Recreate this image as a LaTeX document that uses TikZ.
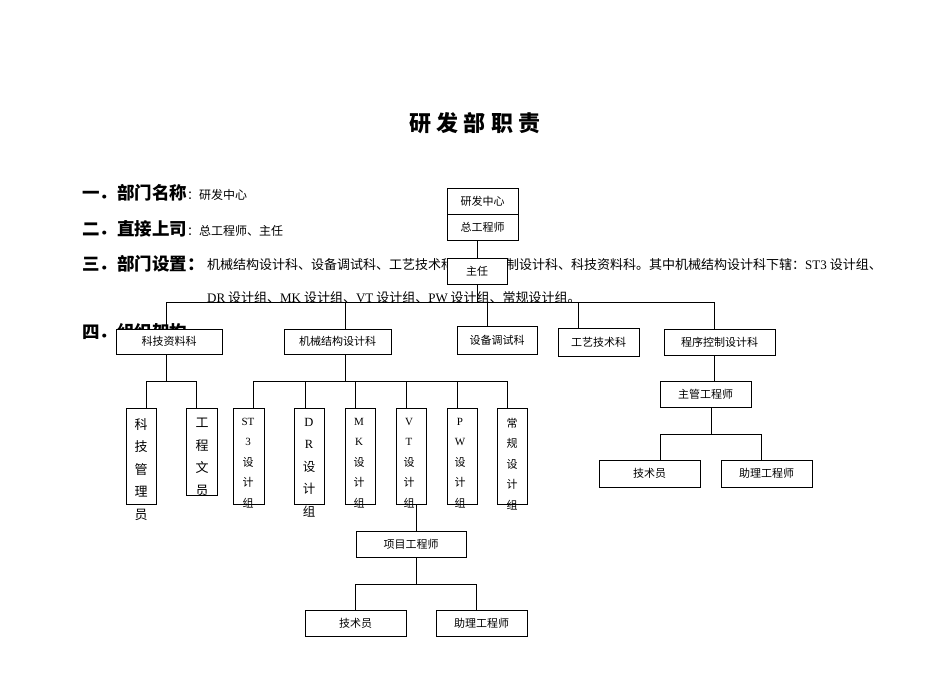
\documentclass[tikz,border=0pt]{standalone}
\usepackage{fontspec}
\setmainfont{Noto Sans CJK SC}
\newfontfamily\lat{Liberation Serif}
\begin{document}
\begin{tikzpicture}[x=1pt,y=-1pt,
  box/.style={draw,fill=white,line width=0.6pt,inner sep=0pt},
  ln/.style={line width=0.6pt},
  lbl/.style={font=\fontsize{11}{13}\selectfont},
  head/.style={font=\fontsize{17.5}{19}\selectfont\bfseries,anchor=west,inner sep=0},
  small/.style={font=\fontsize{13}{15}\selectfont,anchor=west,inner sep=0}]
\useasboundingbox (0,0) rectangle (950,672);
\newcommand\bx[6]{\node[box,minimum width={(#4-#2)*1pt},minimum height={(#5-#3)*1pt},lbl] (#1) at ({(#2+#4)/2},{(#3+#5)/2}) {#6};}
% title and text
\node[font=\fontsize{22}{24}\selectfont\bfseries] (title) at (475,123) {研\ 发\ 部\ 职\ 责};
\node[head] (h1) at (82,193) {一．部门名称\textmd{\fontsize{12}{14}\selectfont：研发中心}};
\node[head] (h2) at (82,229) {二．直接上司\textmd{\fontsize{12}{14}\selectfont：总工程师、主任}};
\node[head] (h3) at (82,264) {三．部门设置：};
\node[small] (t3) at (207,265) {机械结构设计科、设备调试科、工艺技术科、程序控制设计科、科技资料科。其中机械结构设计科下辖：{\lat ST3} 设计组、};
\node[small] (t4) at (207,298) {{\lat DR} 设计组、{\lat MK} 设计组、{\lat VT} 设计组、{\lat PW} 设计组、常规设计组。};
\node[head] (h4) at (82,332) {四．组织架构};
% top
\bx{a}{447}{188}{518}{214}{研发中心}
\bx{b}{447}{214}{518}{240}{总工程师}
\coordinate (bl) at (166,302); \coordinate (br) at (714,302);
\draw[ln] (477,240) -- (477,302);
\draw[ln] (bl) -- (br);
\bx{zr}{447}{258}{507}{284}{主任}
\bx{k1}{116}{329}{222}{354}{科技资料科}
\bx{k2}{284}{329}{391}{354}{机械结构设计科}
\bx{k3}{457}{326}{537}{354}{设备调试科}
\bx{k4}{558}{328}{639}{356}{工艺技术科}
\bx{k5}{664}{329}{775}{355}{程序控制设计科}
\draw[ln] (166,302) -- (k1.north -| 166,0);
\foreach \k/\x in {k2/345,k3/487,k4/578,k5/714} \draw[ln] (\x,302) -- (\k.north -| \x,0);
% 科技资料科 children
\coordinate (c1) at (146,381); \coordinate (c2) at (196,381);
\draw[ln] (k1.south -| 166,0) -- (166,381); \draw[ln] (c1) -- (c2);
\bx{p1}{126}{408}{156}{504}{}
\bx{p2}{186}{408}{217}{495}{}
\draw[ln] (c1) -- (p1.north -| c1); \draw[ln] (c2) -- (p2.north -| c2);
\node[anchor=north,align=center,inner sep=0,font=\fontsize{13}{22.5}\selectfont] (p1t) at (141,418) {科\\技\\管\\理\\员};
\node[anchor=north,align=center,inner sep=0,font=\fontsize{13}{22.5}\selectfont] (p2t) at (202,418) {工\\程\\文\\员};
% groups
\coordinate (g1) at (253,381); \coordinate (g2) at (507,381);
\draw[ln] (k2.south -| 345,0) -- (345,381); \draw[ln] (g1) -- (g2);
\bx{s1}{233}{408}{264}{504}{}
\bx{s2}{294}{408}{324}{504}{}
\bx{s3}{345}{408}{375}{504}{}
\bx{s4}{396}{408}{426}{504}{}
\bx{s5}{447}{408}{477}{504}{}
\bx{s6}{497}{408}{527}{504}{}
\foreach \s/\x in {s1/253,s2/305,s3/355,s4/406,s5/457,s6/507} \draw[ln] (\x,381) -- (\s.north -| \x,0);
\node[anchor=north,align=center,inner sep=0,font=\fontsize{11}{20.5}\selectfont] (s1t) at (248,418) {{\lat ST}\\{\lat 3}\\设\\计\\组};
\node[anchor=north,align=center,inner sep=0,font=\fontsize{12.5}{22.5}\selectfont] (s2t) at (309,418) {{\lat D}\\{\lat R}\\设\\计\\组};
\node[anchor=north,align=center,inner sep=0,font=\fontsize{11}{20.5}\selectfont] (s3t) at (359,418) {{\lat M}\\{\lat K}\\设\\计\\组};
\node[anchor=north,align=center,inner sep=0,font=\fontsize{11}{20.5}\selectfont] (s4t) at (409,418) {{\lat V}\\{\lat T}\\设\\计\\组};
\node[anchor=north,align=center,inner sep=0,font=\fontsize{11}{20.5}\selectfont] (s5t) at (460,418) {{\lat P}\\{\lat W}\\设\\计\\组};
\node[anchor=north,align=center,inner sep=0,font=\fontsize{11}{20.5}\selectfont] (s6t) at (512,418) {常\\规\\设\\计\\组};
% project engineer
\bx{xm}{356}{531}{466}{557}{项目工程师}
\draw[ln] (s4.south -| 416,0) -- (xm.north -| 416,0);
\coordinate (d1) at (355,584); \coordinate (d2) at (476,584);
\draw[ln] (xm.south -| 416,0) -- (416,584); \draw[ln] (d1) -- (d2);
\bx{j1}{305}{610}{406}{636}{技术员}
\bx{j2}{436}{610}{527}{636}{助理工程师}
\draw[ln] (d1) -- (j1.north -| d1); \draw[ln] (d2) -- (j2.north -| d2);
% 程序控制
\bx{zg}{660}{381}{751}{407}{主管工程师}
\draw[ln] (k5.south -| 714,0) -- (zg.north -| 714,0);
\coordinate (e1) at (660,434); \coordinate (e2) at (761,434);
\draw[ln] (zg.south -| 711,0) -- (711,434); \draw[ln] (e1) -- (e2);
\bx{m1}{599}{460}{700}{487}{技术员}
\bx{m2}{721}{460}{812}{487}{助理工程师}
\draw[ln] (e1) -- (m1.north -| e1); \draw[ln] (e2) -- (m2.north -| e2);
\end{tikzpicture}
\end{document}
